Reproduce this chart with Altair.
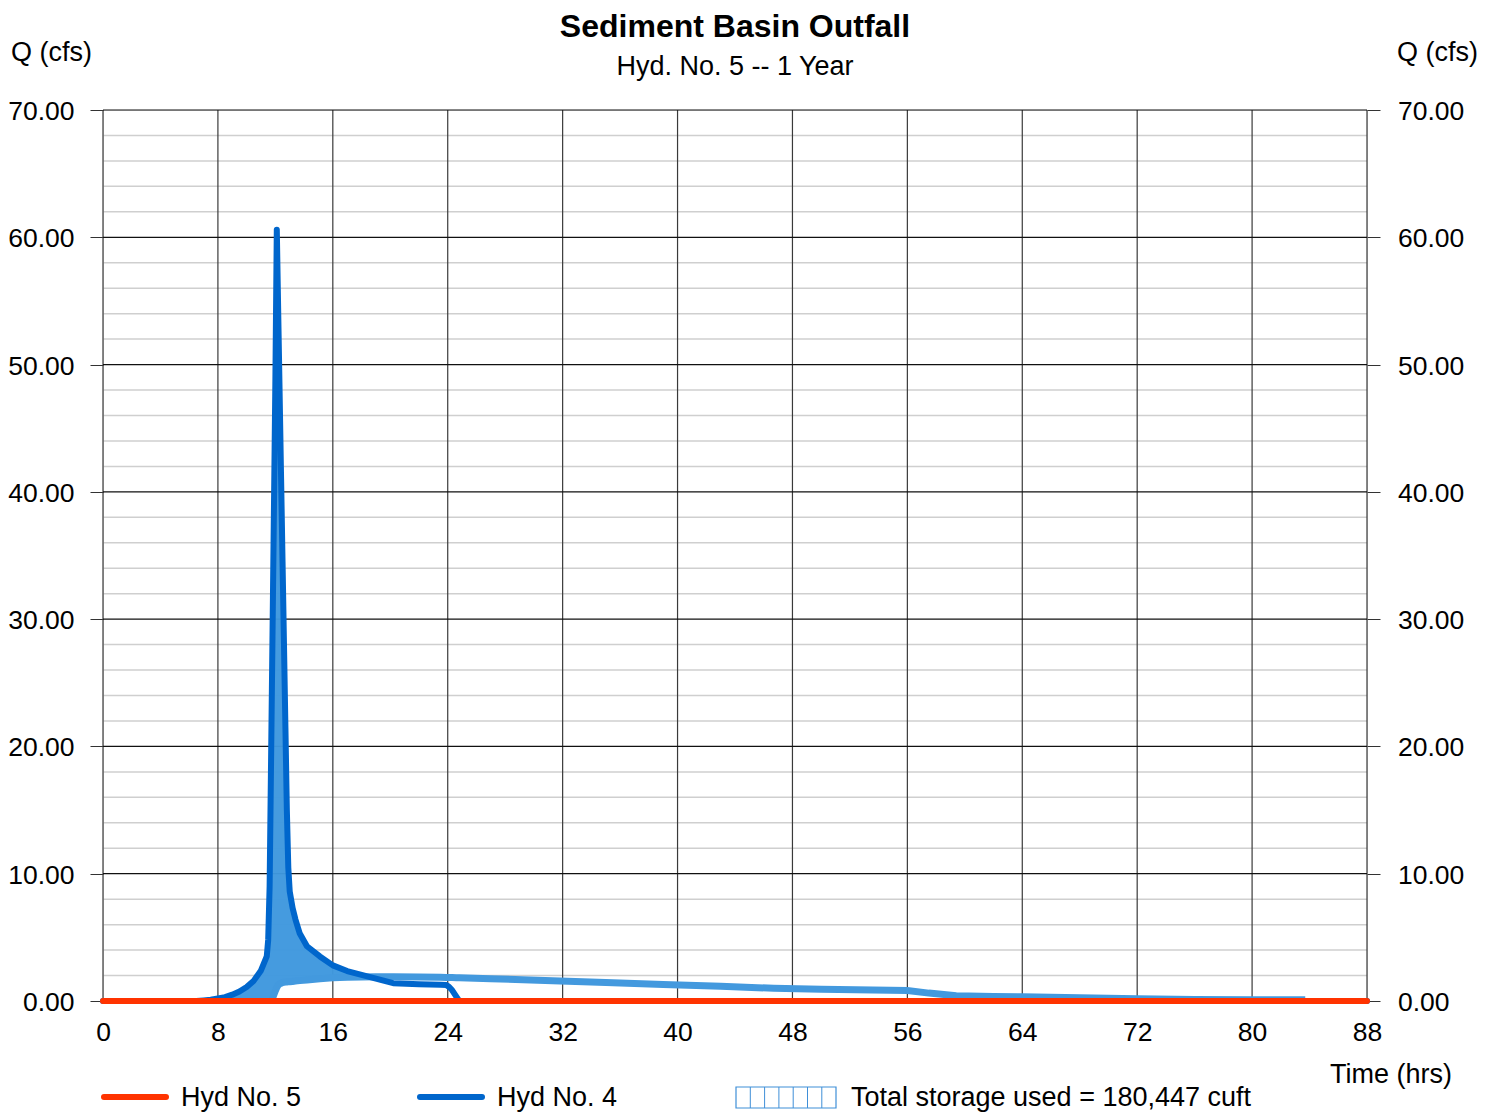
import altair as alt
import pandas as pd

FONT = "Liberation Sans"

# ---- data ----
time_hrs = [0, 6.5, 7, 7.5, 8, 8.5, 9, 9.5, 10, 10.5, 11, 11.4, 11.5, 11.6, 11.7, 11.8, 11.9,
            12.0, 12.1, 12.2, 12.3, 12.4, 12.5, 12.6, 12.7, 12.8, 12.9, 13.0, 13.2, 13.4,
            13.7, 14.2, 15.1, 16.0, 17.0, 18.0, 19.0, 20.2, 22, 23.5, 23.9, 24.1, 24.3,
            24.6, 24.8, 27, 31.3, 35, 39, 43, 46.7, 50, 53.6, 56, 57.5, 59.4, 62, 64, 68,
            72, 76, 80, 83.7, 88]
hyd4_cfs = [0, 0, 0.05, 0.1, 0.2, 0.3, 0.5, 0.75, 1.1, 1.6, 2.4, 3.5, 4.8, 9.0, 18.8, 28.7, 38.6,
            48.7, 60.6, 54.0, 47.5, 41.0, 34.5, 28.0, 21.5, 15.0, 10.5, 8.6, 7.3, 6.4,
            5.3, 4.3, 3.5, 2.8, 2.35, 2.05, 1.75, 1.4, 1.32, 1.28, 1.26, 1.1, 0.86,
            0.34, 0, 0, 0, 0, 0, 0, 0, 0, 0, 0, 0, 0, 0, 0, 0,
            0, 0, 0, 0, 0]
storage_cfs = [None, None, None, None, None, None, None, None, None, None, None, None, None, None, 0, 0.2, 0.5,
               0.8, 1.05, 1.25, 1.35, 1.4, 1.45, 1.47, 1.49, 1.5, 1.51, 1.52, 1.54, 1.57,
               1.6, 1.65, 1.75, 1.82, 1.86, 1.88, 1.9, 1.9, 1.88, 1.86, 1.85, 1.84, 1.84,
               1.83, 1.82, 1.75, 1.6, 1.45, 1.3, 1.15, 1.0, 0.93, 0.86, 0.82, 0.62, 0.42, 0.36, 0.33, 0.25,
               0.17, 0.12, 0.1, 0.1, None]
hyd5_time = [0, 88]
hyd5_cfs = [0, 0]

x_ticks = list(range(0, 89, 8))
y_major = list(range(0, 71, 10))
y_minor = [v for v in range(0, 71, 2) if v % 10]

legend_labels = ["Hyd No. 5", "Hyd No. 4", "Total storage used = 180,447 cuft"]

# ---- tables ----
df = pd.DataFrame({"t": time_hrs, "hyd4": hyd4_cfs, "storage": storage_cfs})
stor = df.dropna(subset=["storage"])
fill = df[(df.t >= 6.5) & (df.t <= 18.0)].copy()
fill["bottom"] = fill["storage"].fillna(0)
hyd5 = pd.DataFrame({"t": hyd5_time, "v": hyd5_cfs})

W, H = 1264, 891
TICK_FS = 26.5
TXT_FS = 27
XSCALE = alt.Scale(domain=[0, 88], nice=False, zero=False)
YSCALE = alt.Scale(domain=[0, 70], nice=False)


def X(field="t"):
    return alt.X(f"{field}:Q", scale=XSCALE,
                 axis=alt.Axis(values=x_ticks, grid=False, ticks=False, domain=False,
                               labelPadding=18, labelFontSize=TICK_FS, labelFont=FONT,
                               labelColor="black", title=None, labelFlush=False,
                               labelOverlap=False))


def Y(field):
    return alt.Y(f"{field}:Q", scale=YSCALE,
                 axis=alt.Axis(values=y_major, format=".2f", grid=False, domain=False,
                               tickSize=13, tickColor="#333", labelPadding=16,
                               labelFontSize=TICK_FS, labelFont=FONT, labelColor="black",
                               title=None, orient="left", labelFlush=False,
                               labelOffset=1.5))


def text(txt, x, y, size=TXT_FS, bold=False, align="left"):
    return alt.Chart(pd.DataFrame({"a": [0]})).mark_text(
        text=txt, font=FONT, fontSize=size, fontWeight="bold" if bold else "normal",
        align=align, baseline="alphabetic", color="black"
    ).encode(x=alt.value(x), y=alt.value(y))


minor = alt.Chart(pd.DataFrame({"v": y_minor})).mark_rule(color="#cfcfcf", strokeWidth=1.5).encode(y=Y("v"))
vert = alt.Chart(pd.DataFrame({"t": x_ticks})).mark_rule(color="#3a3a3a", strokeWidth=1.2).encode(x=X("t"))
major = alt.Chart(pd.DataFrame({"v": y_major})).mark_rule(color="#111111", strokeWidth=1.2).encode(y=Y("v"))

area = alt.Chart(fill).mark_area(color="#3f98de", opacity=0.97, interpolate="linear").encode(
    x=X("t"), y=Y("hyd4"), y2="bottom:Q")
stor_line = alt.Chart(stor).mark_line(color="#4399de", strokeWidth=7).encode(x=X("t"), y=Y("storage"))
hyd4_line = alt.Chart(df).mark_line(color="#0066cc", strokeWidth=6, strokeCap="round",
                                    strokeJoin="round").encode(x=X("t"), y=Y("hyd4"))
hyd5_line = alt.Chart(hyd5).mark_line(color="#ff3300", strokeWidth=6, strokeCap="round").encode(
    x=X("t"), y=Y("v"))

# texts (positions relative to plot area)
texts = [
    text("Sediment Basin Outfall", W / 2, -73, size=32, bold=True, align="center"),
    text("Hyd. No. 5 -- 1 Year", W / 2, -35, align="center"),
    text("Q (cfs)", -92, -49),
    text("Q (cfs)", 1294, -49),
    text("Time (hrs)", 1288, 973, align="center"),
    text(legend_labels[0], 78, 996),
    text(legend_labels[1], 394, 996),
    text(legend_labels[2], 748, 996),
]

one = pd.DataFrame({"a": [0]})
leg_red = alt.Chart(one).mark_rule(color="#ff3300", strokeWidth=6, strokeCap="round").encode(
    x=alt.value(1), x2=alt.value(63), y=alt.value(987))
leg_blue = alt.Chart(one).mark_rule(color="#0066cc", strokeWidth=6, strokeCap="round").encode(
    x=alt.value(317), x2=alt.value(379), y=alt.value(987))
leg_box = alt.Chart(one).mark_rect(fill="white", stroke="#3f8fd8", strokeWidth=1.2).encode(
    x=alt.value(633), x2=alt.value(733), y=alt.value(977), y2=alt.value(998))
hatch = [alt.Chart(one).mark_rule(color="#3f8fd8", strokeWidth=1).encode(
    x=alt.value(633 + 14.3 * k), y=alt.value(977), y2=alt.value(998)) for k in range(1, 7)]

left = alt.layer(minor, vert, major, area, stor_line, hyd4_line, hyd5_line,
                 leg_red, leg_blue, leg_box, *hatch, *texts)

right = alt.Chart(pd.DataFrame({"v": y_major})).mark_rule(opacity=0).encode(
    y=alt.Y("v:Q", scale=YSCALE,
            axis=alt.Axis(values=y_major, format=".2f", grid=False, domain=False,
                          tickSize=13, tickColor="#333", labelPadding=17.5,
                          labelFontSize=TICK_FS, labelFont=FONT, labelColor="black",
                          title=None, orient="right", labelFlush=False, labelOffset=1.5)))

chart = alt.layer(left, right).resolve_scale(y="independent").properties(
    width=W, height=H,
    autosize=alt.AutoSizeParams(type="none"),
    padding={"left": 95, "top": 102, "right": 115, "bottom": 111},
).configure_view(stroke=None).configure(background="white")

chart.save("out.html", embed_options={"renderer": "svg", "actions": False})
